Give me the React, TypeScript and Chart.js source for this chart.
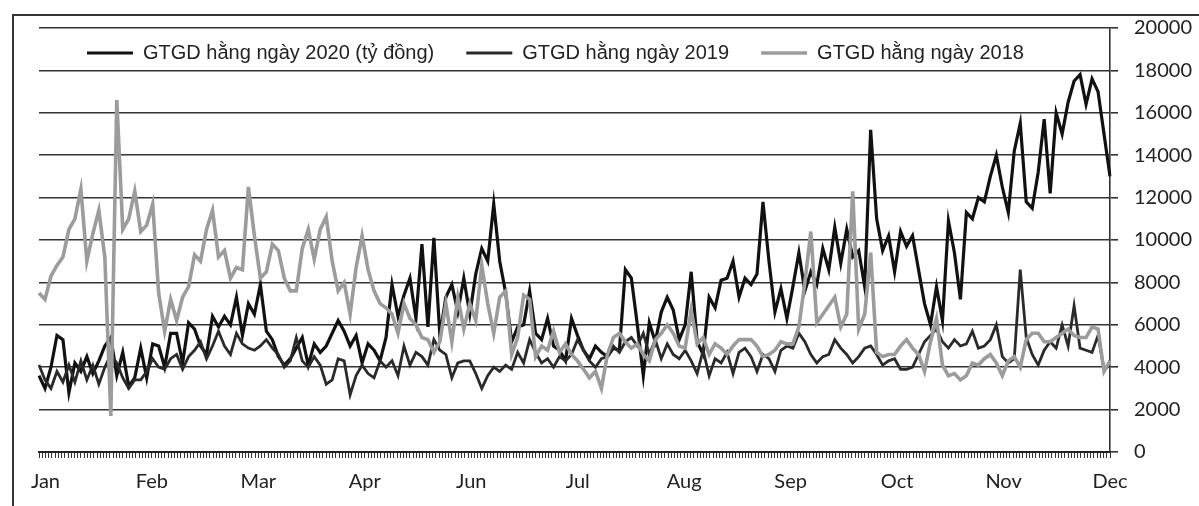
import React, { useEffect, useRef } from 'react';
import { Chart, registerables } from 'chart.js';

Chart.register(...registerables);

// ---- data -------------------------------------------------------------
const DAY_COUNT = 180;
const DAYS = Array.from({ length: DAY_COUNT }, (_, i) => String(i + 1));

const MONTH_LABELS = ['Jan', 'Feb', 'Mar', 'Apr', 'Jun', 'Jul', 'Aug', 'Sep', 'Oct', 'Nov', 'Dec'];
const TICK_COUNT = 333;
const LABEL_FIRST = 2;
const LABEL_EVERY = 33;

const Y_TICK_MIN = 0;
const Y_TICK_MAX = 20000;
const Y_TICK_STEP = 2000;

const LABEL_2020 = 'GTGD hằng ngày 2020 (tỷ đồng)';
const LABEL_2019 = 'GTGD hằng ngày 2019';
const LABEL_2018 = 'GTGD hằng ngày 2018';

const SERIES_2020 = [
  3600, 3000, 4000, 5500, 5300, 2800, 4200, 3800, 4500, 3700,
  4300, 5000, 5400, 3600, 4700, 3100, 3500, 4900, 3500, 5100,
  5000, 4000, 5600, 5600, 4200, 6100, 5800, 5000, 4600, 6400,
  5900, 6400, 6000, 7300, 5500, 7000, 6500, 7900, 5700, 5300,
  4500, 4100, 4400, 4900, 5400, 4100, 5100, 4700, 5000, 5600,
  6200, 5700, 5000, 5500, 4200, 5100, 4800, 4300, 5400, 7900,
  6400, 7400, 8200, 6300, 9800, 5900, 10100, 5500, 7300, 7900,
  6600, 8200, 6500, 8400, 9600, 9000, 11700, 9000, 7500, 5200,
  5900, 6000, 7600, 5600, 5300, 6300, 5000, 4800, 4300, 6300,
  5500, 4800, 4400, 5000, 4700, 4500, 4900, 4800, 8600, 8200,
  6000, 3600, 6100, 5200, 6600, 7300, 6700, 5300, 6000, 8500,
  5200, 4600, 7300, 6800, 8100, 8200, 9000, 7300, 8200, 7900,
  8400, 11800, 9000, 6600, 7700, 6300, 7800, 9400, 7600, 8500,
  7900, 9600, 8600, 10600, 8900, 10500, 9200, 9500, 7800, 15200,
  11000, 9500, 10200, 8500, 10400, 9700, 10200, 8600, 7000, 6000,
  7800, 6200, 10900, 9400, 7200, 11300, 11000, 12000, 11800, 13000,
  14000, 12500, 11300, 14200, 15500, 11800, 11500, 13200, 15700, 12200,
  16000, 15000, 16500, 17500, 17800, 16400, 17600, 17000, 15000, 13000,
];

const SERIES_2019 = [
  4100, 3400, 3000, 3800, 3300, 4100, 3300, 4300, 3400, 4100,
  3200, 4000, 4600, 4200, 3500, 3000, 3400, 3400, 3800, 4400,
  4000, 3900, 4400, 4600, 3900, 4500, 4800, 5200, 4400, 5000,
  5700, 5000, 4600, 5600, 5100, 4900, 4800, 5000, 5300, 4900,
  4600, 4000, 4300, 5400, 4300, 4000, 4500, 4100, 3200, 3400,
  4400, 4300, 2700, 3600, 4100, 3700, 3500, 4300, 4000, 4300,
  3600, 5000, 4100, 4700, 4500, 4100, 5300, 4800, 4600, 3500,
  4200, 4300, 4300, 3700, 3000, 3600, 4000, 3800, 4100, 3900,
  4700, 4200, 5300, 4700, 4200, 4400, 4000, 4500, 4300, 4600,
  5300, 4800, 4300, 4000, 4400, 4500, 5000, 4700, 5200, 5400,
  5000, 5600, 4600, 5300, 4400, 5100, 4600, 4400, 4800, 4300,
  3700, 4800, 3600, 4400, 4200, 4700, 3700, 4700, 4900, 4500,
  3800, 4600, 4400, 3800, 4800, 5000, 4900, 5600, 5200, 4600,
  4200, 4500, 4600, 5300, 4900, 4600, 4200, 4500, 4900, 5000,
  4600, 4100, 4300, 4400, 3900, 3900, 4000, 4600, 5200, 5500,
  5800, 5200, 4900, 5300, 5000, 5100, 5700, 4900, 5000, 5300,
  6000, 4500, 4200, 4400, 8600, 5400, 4600, 4100, 4800, 5200,
  4900, 6000, 5000, 6900, 4900, 4800, 4700, 5500, 3900, 4100,
];

const SERIES_2018 = [
  7500, 7200, 8300, 8800, 9200, 10500, 11000, 12400, 9000, 10300,
  11400, 9200, 1700, 16600, 10500, 11000, 12300, 10400, 10700, 11700,
  7500, 5700, 7200, 6200, 7300, 7800, 9300, 9000, 10500, 11400,
  9200, 9500, 8200, 8700, 8600, 12500, 10200, 8200, 8500, 9800,
  9500, 8200, 7600, 7600, 9600, 10500, 9100, 10500, 11100, 9000,
  7600, 8000, 6500, 8700, 10200, 8600, 7600, 7000, 6800, 6500,
  5600, 7000, 6300, 6000, 5400, 5300, 4700, 5200, 7000, 5200,
  7300, 5800, 7000, 6200, 8800, 7000, 5600, 7300, 7600, 4600,
  5400, 7400, 7200, 4500, 5000, 4800, 5700, 4700, 5100, 4600,
  4300, 3900, 3500, 3800, 3000, 4600, 5400, 5600, 5200, 4900,
  5100, 4600, 4300, 5300, 5600, 6000, 5600, 5000, 4900, 6700,
  5100, 5400, 4600, 5100, 4900, 4600, 5000, 5300, 5300, 5300,
  5000, 4500, 4600, 4800, 5200, 5100, 5100, 5900, 8000, 10400,
  6100, 6500, 6900, 7300, 5900, 6500, 12300, 5800, 6500, 9400,
  4700, 4500, 4600, 4600, 5000, 5300, 4900, 4600, 3800, 5200,
  6300, 4100, 3600, 3700, 3400, 3600, 4200, 4100, 4400, 4600,
  4200, 3600, 4300, 4500, 4000, 5300, 5600, 5600, 5200, 5200,
  5400, 5600, 5800, 5500, 5400, 5400, 5900, 5800, 3800, 4300,
];

const AXIS_TICK_LABELS = Array.from({ length: TICK_COUNT }, (_, k) =>
  k >= LABEL_FIRST && (k - LABEL_FIRST) % LABEL_EVERY === 0
    ? MONTH_LABELS[(k - LABEL_FIRST) / LABEL_EVERY] || ''
    : ''
);

// legend placement inside the plot (row layout, sitting under the top gridline)
const LEGEND_GAP = 32;
const LEGEND_INSET_X = 16;
const LEGEND_LIFT_Y = 17;

const legendInPlot = {
  id: 'legendInPlot',
  beforeLayout(chart: any) {
    const lg = chart.legend;
    if (lg) lg.isHorizontal = () => true;
  },
  afterLayout(chart: any) {
    const lg = chart.legend;
    const a = chart.chartArea;
    if (!lg || !a) return;
    lg.left = a.left + LEGEND_INSET_X;
    lg.right = a.right;
    lg.top = a.top - LEGEND_LIFT_Y;
    lg.bottom = a.bottom;
    lg.width = lg.right - lg.left;
    lg.height = lg.bottom - lg.top;
  },
};

// ---- component --------------------------------------------------------
export default function App() {
  const canvasRef = useRef<HTMLCanvasElement | null>(null);

  useEffect(() => {
    const canvas = canvasRef.current;
    if (!canvas) return;
    const axisFont = { family: 'Lato', size: 20 };
    const chart = new Chart(canvas, {
      type: 'line',
      data: {
        labels: DAYS,
        datasets: [
          {
            label: LABEL_2020,
            data: SERIES_2020,
            borderColor: '#111111',
            borderWidth: 3.2,
            pointRadius: 0,
            tension: 0,
            order: 3,
          },
          {
            label: LABEL_2019,
            data: SERIES_2019,
            borderColor: '#2a2a2a',
            borderWidth: 2.8,
            pointRadius: 0,
            tension: 0,
            order: 2,
          },
          {
            label: LABEL_2018,
            data: SERIES_2018,
            borderColor: '#9c9c9c',
            borderWidth: 3.6,
            pointRadius: 0,
            tension: 0,
            order: 1,
          },
        ],
      },
      options: {
        animation: false,
        responsive: false,
        devicePixelRatio: 1,
        layout: { padding: { top: 19, left: 39, right: -9, bottom: 0 } },
        scales: {
          x: { type: 'category', display: false },
          xTicks: {
            type: 'category',
            labels: AXIS_TICK_LABELS,
            position: 'bottom',
            offset: false,
            grid: { drawOnChartArea: false, drawTicks: true, tickLength: 6, color: '#333', lineWidth: 1 },
            border: { display: true, color: '#222', width: 2 },
            ticks: {
              autoSkip: false,
              maxRotation: 0,
              minRotation: 0,
              padding: 12,
              color: '#222',
              font: axisFont,
            },
          },
          y: {
            position: 'right',
            min: Y_TICK_MIN,
            max: Y_TICK_MAX,
            ticks: {
              stepSize: Y_TICK_STEP,
              padding: 16,
              color: '#222',
              font: axisFont,
              callback: (v: any) => String(v),
            },
            grid: { color: '#333', lineWidth: 1.6, tickLength: 8 },
            border: { display: true, color: '#333', width: 1.6 },
          },
        },
        plugins: {
          tooltip: { enabled: false },
          legend: {
            position: 'chartArea',
            align: 'start',
            labels: {
              usePointStyle: true,
              pointStyle: 'line',
              pointStyleWidth: 46,
              padding: LEGEND_GAP,
              color: '#222',
              font: { family: 'Liberation Sans', size: 20 },
              sort: (a: any, b: any) => a.datasetIndex - b.datasetIndex,
            },
          },
        },
      },
      plugins: [legendInPlot],
    } as any);
    return () => chart.destroy();
  }, []);

  return (
    <div style={{ position: 'fixed', left: 0, top: 0, width: 1199, height: 506, background: '#fff' }}>
      <div
        style={{
          position: 'absolute',
          left: 12,
          top: 14,
          width: 1199,
          height: 506,
          borderTop: '2px solid #333',
          borderLeft: '2px solid #333',
        }}
      />
      <canvas
        ref={canvasRef}
        width={1199}
        height={506}
        style={{ position: 'absolute', left: 0, top: 0, width: 1199, height: 506 }}
      />
    </div>
  );
}
